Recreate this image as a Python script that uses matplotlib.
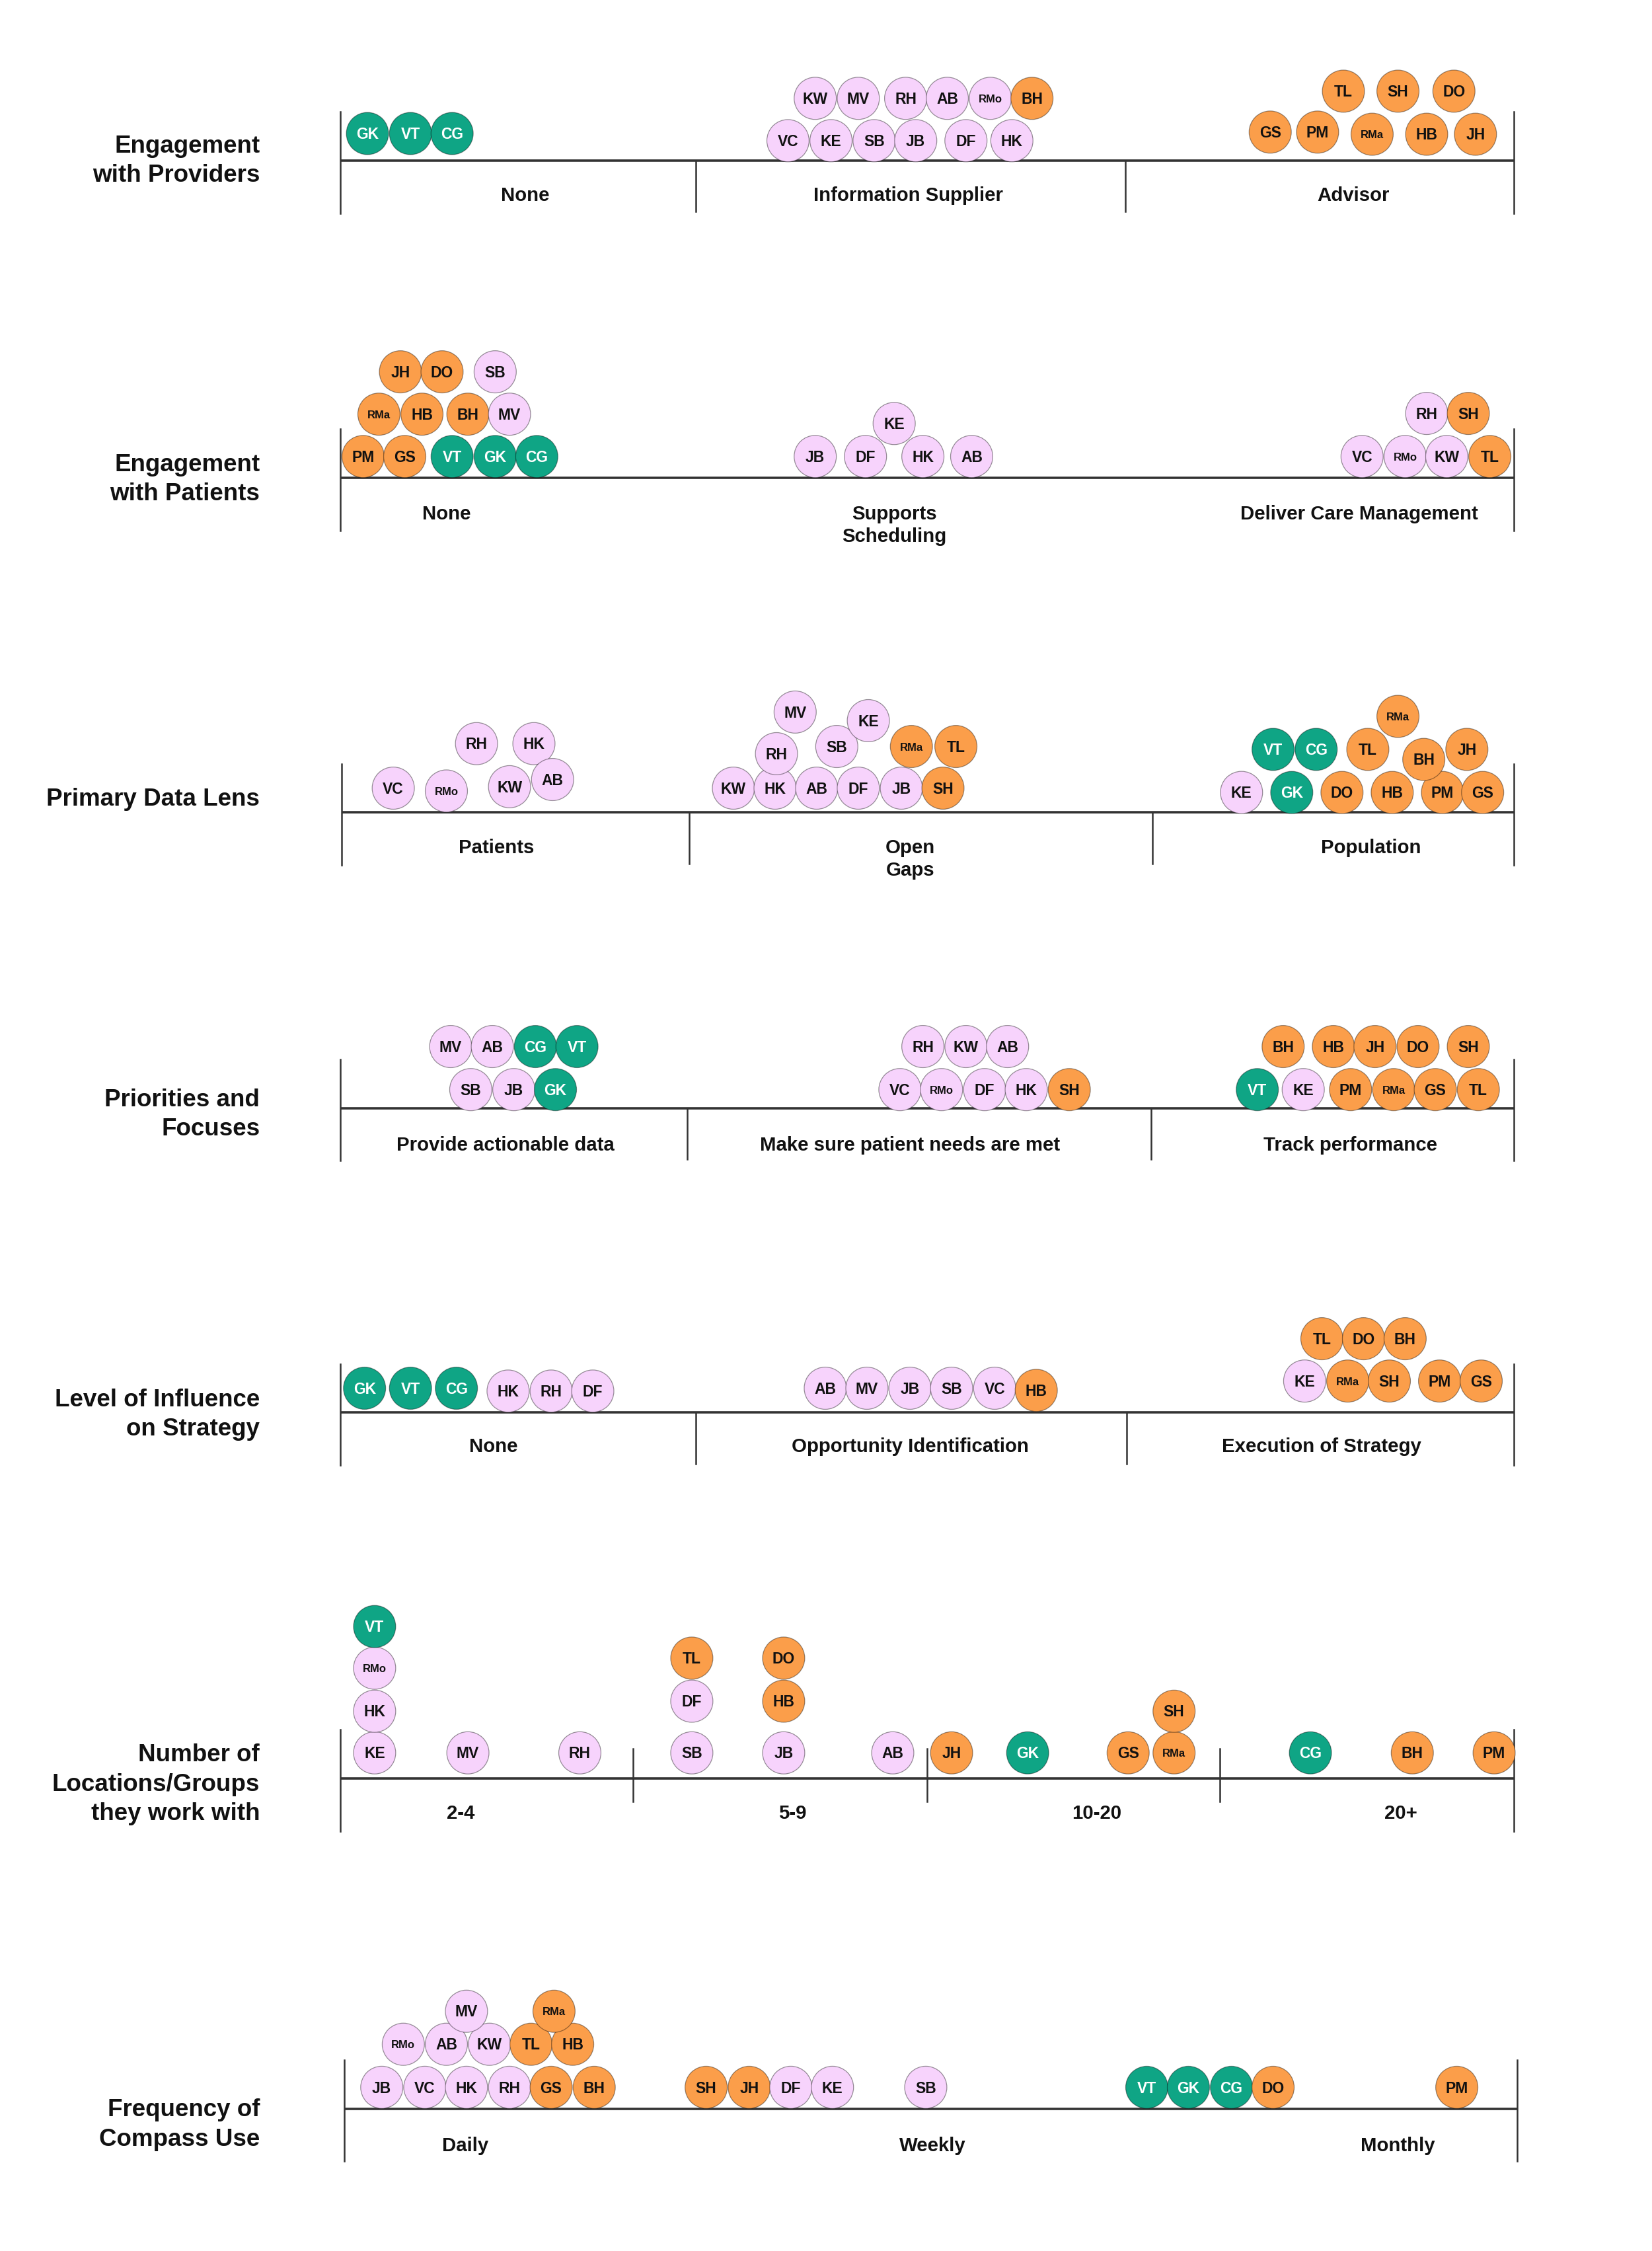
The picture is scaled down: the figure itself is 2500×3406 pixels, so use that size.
import matplotlib
matplotlib.use('Agg')
import matplotlib.pyplot as plt
from matplotlib.patches import Circle

plt.rcParams['font.family'] = ['Liberation Sans', 'DejaVu Sans']
plt.rcParams['font.weight'] = 'bold'

# who belongs to which group (colour)
teal_people = ['GK', 'VT', 'CG']
orange_people = ['BH', 'TL', 'SH', 'DO', 'GS', 'PM', 'RMa', 'HB', 'JH']

# ---- panel 1 : Engagement with Providers
p1_title = 'Engagement\nwith Providers'
p1_cats = ['None', 'Information Supplier', 'Advisor']
p1_cat_x = [366, 633, 943]
p1_people = ['GK', 'VT', 'CG',
             'KW', 'MV', 'RH', 'AB', 'RMo', 'BH',
             'VC', 'KE', 'SB', 'JB', 'DF', 'HK',
             'TL', 'SH', 'DO', 'GS', 'PM', 'RMa', 'HB', 'JH']
p1_x = [256, 286, 315,
        568, 598, 631, 660, 690, 719,
        549, 579, 609, 638, 673, 705,
        936, 974, 1013, 885, 918, 956, 994, 1028]
p1_y = [93, 93, 93,
        68.5, 68.5, 68.5, 68.5, 68.5, 68.5,
        98, 98, 98, 98, 98, 98,
        63.5, 63.5, 63.5, 92, 92, 93.5, 93.5, 93.5]

# ---- panel 2 : Engagement with Patients
p2_title = 'Engagement\nwith Patients'
p2_cats = ['None', 'Supports\nScheduling', 'Deliver Care Management']
p2_cat_x = [311, 623, 947]
p2_people = ['PM', 'GS', 'VT', 'GK', 'CG',
             'RMa', 'HB', 'BH', 'MV',
             'JH', 'DO', 'SB',
             'JB', 'DF', 'KE', 'HK', 'AB',
             'VC', 'RMo', 'KW', 'TL', 'RH', 'SH']
p2_x = [253, 282, 315, 345, 374,
        264, 294, 326, 355,
        279, 308, 345,
        568, 603, 623, 643, 677,
        949, 979, 1008, 1038, 994, 1023]
p2_y = [318, 318, 318, 318, 318,
        288.5, 288.5, 288.5, 288.5,
        259, 259, 259,
        318, 318, 295, 318, 318,
        318, 318, 318, 318, 288, 288]

# ---- panel 3 : Primary Data Lens
p3_title = 'Primary Data Lens'
p3_cats = ['Patients', 'Open\nGaps', 'Population']
p3_cat_x = [346, 634, 955]
p3_people = ['VC', 'RMo', 'RH', 'HK', 'KW', 'AB',
             'KW', 'HK', 'AB', 'DF', 'JB', 'SH',
             'RH', 'SB', 'MV', 'KE', 'RMa', 'TL',
             'KE', 'GK', 'DO', 'HB', 'PM', 'GS',
             'VT', 'CG', 'TL', 'BH', 'JH', 'RMa']
p3_x = [274, 311, 332, 372, 355, 385,
        511, 540, 569, 598, 628, 657,
        541, 583, 554, 605, 635, 666,
        865, 900, 935, 970, 1005, 1033,
        887, 917, 953, 992, 1022, 974]
p3_y = [549, 551, 518, 518, 548, 543,
        549, 549, 549, 549, 549, 549,
        525, 520, 496, 502, 520, 520,
        552, 552, 552, 552, 552, 552,
        522, 522, 522, 529, 522, 499]

# ---- panel 4 : Priorities and Focuses
p4_title = 'Priorities and\nFocuses'
p4_cats = ['Provide actionable data', 'Make sure patient needs are met',
           'Track performance']
p4_cat_x = [352, 634, 941]
p4_people = ['MV', 'AB', 'CG', 'VT', 'SB', 'JB', 'GK',
             'RH', 'KW', 'AB', 'VC', 'RMo', 'DF', 'HK', 'SH',
             'BH', 'HB', 'JH', 'DO', 'SH',
             'VT', 'KE', 'PM', 'RMa', 'GS', 'TL']
p4_x = [314, 343, 373, 402, 328, 358, 387,
        643, 673, 702, 627, 656, 686, 715, 745,
        894, 929, 958, 988, 1023,
        876, 908, 941, 971, 1000, 1030]
p4_y = [729, 729, 729, 729, 759, 759, 759,
        729, 729, 729, 759, 759, 759, 759, 759,
        729, 729, 729, 729, 729,
        759, 759, 759, 759, 759, 759]

# ---- panel 5 : Level of Influence on Strategy
p5_title = 'Level of Influence\non Strategy'
p5_cats = ['None', 'Opportunity Identification', 'Execution of Strategy']
p5_cat_x = [344, 634, 921]
p5_people = ['GK', 'VT', 'CG', 'HK', 'RH', 'DF',
             'AB', 'MV', 'JB', 'SB', 'VC', 'HB',
             'TL', 'DO', 'BH',
             'KE', 'RMa', 'SH', 'PM', 'GS']
p5_x = [254, 286, 318, 354, 384, 413,
        575, 604, 634, 663, 693, 722,
        921, 950, 979,
        909, 939, 968, 1003, 1032]
p5_y = [967, 967, 967, 969, 969, 969,
        967, 967, 967, 967, 967, 968.5,
        932.5, 932.5, 932.5,
        962, 962, 962, 962, 962]

# ---- panel 6 : Number of Locations/Groups
p6_title = 'Number of\nLocations/Groups\nthey work with'
p6_cats = ['2-4', '5-9', '10-20', '20+']
p6_cat_x = [321, 552, 764, 976]
p6_people = ['KE', 'HK', 'RMo', 'VT', 'MV', 'RH',
             'SB', 'DF', 'TL', 'JB', 'HB', 'DO', 'AB',
             'JH', 'GK', 'GS', 'RMa', 'SH',
             'CG', 'BH', 'PM']
p6_x = [261, 261, 261, 261, 326, 404,
        482, 482, 482, 546, 546, 546, 622,
        663, 716, 786, 818, 818,
        913, 984, 1041]
p6_y = [1221, 1192, 1162, 1133, 1221, 1221,
        1221, 1185, 1155, 1221, 1185, 1155, 1221,
        1221, 1221, 1221, 1221, 1192,
        1221, 1221, 1221]

# ---- panel 7 : Frequency of Compass Use
p7_title = 'Frequency of\nCompass Use'
p7_cats = ['Daily', 'Weekly', 'Monthly']
p7_cat_x = [324, 650, 974]
p7_people = ['JB', 'VC', 'HK', 'RH', 'GS', 'BH',
             'RMo', 'AB', 'KW', 'TL', 'HB',
             'MV', 'RMa',
             'SH', 'JH', 'DF', 'KE', 'SB',
             'VT', 'GK', 'CG', 'DO', 'PM']
p7_x = [266, 296, 325, 355, 384, 414,
        281, 311, 341, 370, 399,
        325, 386,
        492, 522, 551, 580, 645,
        799, 828, 858, 887, 1015]
p7_y = [1454, 1454, 1454, 1454, 1454, 1454,
        1424, 1424, 1424, 1424, 1424,
        1401, 1401,
        1454, 1454, 1454, 1454, 1454,
        1454, 1454, 1454, 1454, 1454]

panels = [
    dict(title=p1_title, title_y=112, axis_y=112, left=237, right=1055,
         dividers=[485, 784], cross=False, cats=p1_cats, cat_x=p1_cat_x, cat_y=135,
         people=p1_people, x=p1_x, y=p1_y),
    dict(title=p2_title, title_y=334, axis_y=333, left=237, right=1055,
         dividers=[], cross=False, cats=p2_cats, cat_x=p2_cat_x, cat_y=357,
         people=p2_people, x=p2_x, y=p2_y),
    dict(title=p3_title, title_y=557, axis_y=566, left=238, right=1055,
         dividers=[480, 803], cross=False, cats=p3_cats, cat_x=p3_cat_x, cat_y=589.5,
         people=p3_people, x=p3_x, y=p3_y),
    dict(title=p4_title, title_y=776.5, axis_y=772, left=237, right=1055,
         dividers=[479, 802], cross=False, cats=p4_cats, cat_x=p4_cat_x, cat_y=796.5,
         people=p4_people, x=p4_x, y=p4_y),
    dict(title=p5_title, title_y=985.5, axis_y=984, left=237, right=1055,
         dividers=[485, 785], cross=False, cats=p5_cats, cat_x=p5_cat_x, cat_y=1006.5,
         people=p5_people, x=p5_x, y=p5_y),
    dict(title=p6_title, title_y=1243, axis_y=1239, left=237, right=1055,
         dividers=[441, 646, 850], cross=True, cats=p6_cats, cat_x=p6_cat_x, cat_y=1262,
         people=p6_people, x=p6_x, y=p6_y),
    dict(title=p7_title, title_y=1480, axis_y=1469, left=240, right=1057,
         dividers=[], cross=False, cats=p7_cats, cat_x=p7_cat_x, cat_y=1493.5,
         people=p7_people, x=p7_x, y=p7_y),
]

TEAL = '#0fa585'
ORANGE = '#fb9e4a'
PINK = '#f7d3fc'
LINE = '#333333'
R = 14.7            # bubble radius in drawing units
UNIT = 2500 / 1151  # pixels per drawing unit
TITLE_FS = 26.5
CAT_FS = 21.2
CAT_LINE_STEP = 15.5  # distance between lines of a two-line category name

fig = plt.figure(figsize=(25, 34.06), dpi=100)
ax = fig.add_axes([0, 0, 1, 1])
ax.set_xlim(0, 1151)
ax.set_ylim(1568, 0)
ax.set_axis_off()


def cap_offset(fs):
    # half of the cap height, in drawing units
    return fs * 100 / 72 * 0.716 / 2 / UNIT


for p in panels:
    ay = p['axis_y']
    # axis line and ticks
    ax.plot([p['left'], p['right']], [ay, ay], color=LINE, lw=2.6,
            solid_capstyle='butt', zorder=1)
    for xe in (p['left'], p['right']):
        ax.plot([xe, xe], [ay - 34, ay + 36.5], color=LINE, lw=1.8, zorder=1)
    for xd in p['dividers']:
        if p['cross']:
            ax.plot([xd, xd], [ay - 21, ay + 16], color=LINE, lw=1.8, zorder=1)
        else:
            ax.plot([xd, xd], [ay, ay + 35.5], color=LINE, lw=1.8, zorder=1)

    # row title
    ax.text(181, p['title_y'], p['title'], ha='right', va='center',
            multialignment='right', fontsize=TITLE_FS, linespacing=1.35,
            color='#111111')

    # category names (first line centred on cat_y, further lines below)
    for c, cx in zip(p['cats'], p['cat_x']):
        for i, line in enumerate(c.split('\n')):
            ax.text(cx, p['cat_y'] + i * CAT_LINE_STEP + cap_offset(CAT_FS), line,
                    ha='center', va='baseline', fontsize=CAT_FS, color='#111111')

    # bubbles
    for name, bx, by in zip(p['people'], p['x'], p['y']):
        if name in teal_people:
            fc, tc = TEAL, 'white'
        elif name in orange_people:
            fc, tc = ORANGE, '#111111'
        else:
            fc, tc = PINK, '#111111'
        ax.add_patch(Circle((bx, by), R, facecolor=fc, edgecolor=(0, 0, 0, 0.4),
                            lw=0.9, zorder=3))
        fs = 16.5 if len(name) == 2 else 12
        ax.text(bx, by + cap_offset(fs), name, ha='center', va='baseline',
                fontsize=fs, color=tc, zorder=4)

fig.savefig('out.png', dpi=100, facecolor='white')
